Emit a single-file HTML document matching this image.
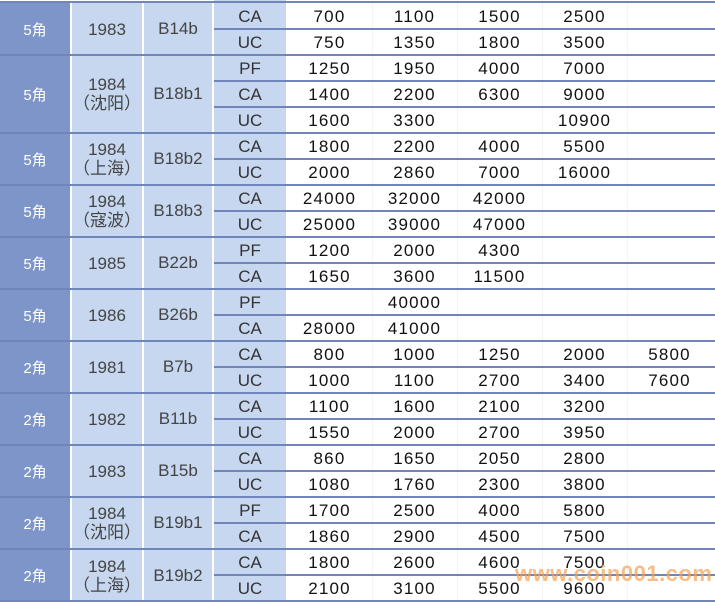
<!DOCTYPE html>
<html><head><meta charset="utf-8"><style>
body{margin:0;width:715px;height:602px;overflow:hidden;background:#fff;position:relative;font-family:"Liberation Sans","Noto Sans CJK SC",sans-serif}
.d{position:absolute;left:0;width:70px;background:#7d95c9;color:#fff;font-size:15px;display:flex;align-items:center;justify-content:center}
.y{position:absolute;left:72px;width:70px;background:#c6d7ef;color:#444;font-size:17px;display:flex;flex-direction:column;align-items:center;justify-content:center;line-height:19px}
.c{position:absolute;left:144px;width:68px;background:#c6d7ef;color:#444;font-size:17px;display:flex;align-items:center;justify-content:center}
.l4{position:absolute;left:214px;width:72px;top:0;height:602px;background:#c6d7ef}
.r{position:absolute;left:214px;height:26px;width:501px;display:flex;align-items:center}
.r b{font-weight:normal;width:72px;text-align:center;font-size:17px;color:#333;padding-top:2px}
.r i{font-style:normal;width:85px;text-align:center;font-size:17px;letter-spacing:1.2px;color:#111;padding-top:1px}
.r i:first-of-type{margin-left:1px}
.h{position:absolute;left:214px;width:501px;height:2px;background:#7086ba}
.g{position:absolute;left:0;width:715px;height:2px;background:#7086ba}
.v{position:absolute;top:0;height:602px;width:1px;background:#f3f4f8}
.wm{position:absolute;left:515px;top:561px;font-size:22px;font-weight:bold;color:rgba(245,160,80,0.7);letter-spacing:0.5px}
</style></head><body>
<div class="l4"></div>
<div class="v" style="left:372px"></div><div class="v" style="left:457px"></div><div class="v" style="left:542px"></div><div class="v" style="left:627px"></div>

<div class="d" style="top:3px;height:52px">5角</div><div class="y" style="top:3px;height:52px">1983</div><div class="c" style="top:3px;height:52px">B14b</div>
<div class="d" style="top:55px;height:78px">5角</div><div class="y" style="top:55px;height:78px"><span>1984</span><span>（沈阳）</span></div><div class="c" style="top:55px;height:78px">B18b1</div>
<div class="d" style="top:133px;height:52px">5角</div><div class="y" style="top:133px;height:52px"><span>1984</span><span>（上海）</span></div><div class="c" style="top:133px;height:52px">B18b2</div>
<div class="d" style="top:185px;height:52px">5角</div><div class="y" style="top:185px;height:52px"><span>1984</span><span>（寇波）</span></div><div class="c" style="top:185px;height:52px">B18b3</div>
<div class="d" style="top:237px;height:52px">5角</div><div class="y" style="top:237px;height:52px">1985</div><div class="c" style="top:237px;height:52px">B22b</div>
<div class="d" style="top:289px;height:52px">5角</div><div class="y" style="top:289px;height:52px">1986</div><div class="c" style="top:289px;height:52px">B26b</div>
<div class="d" style="top:341px;height:52px">2角</div><div class="y" style="top:341px;height:52px">1981</div><div class="c" style="top:341px;height:52px">B7b</div>
<div class="d" style="top:393px;height:52px">2角</div><div class="y" style="top:393px;height:52px">1982</div><div class="c" style="top:393px;height:52px">B11b</div>
<div class="d" style="top:445px;height:52px">2角</div><div class="y" style="top:445px;height:52px">1983</div><div class="c" style="top:445px;height:52px">B15b</div>
<div class="d" style="top:497px;height:52px">2角</div><div class="y" style="top:497px;height:52px"><span>1984</span><span>（沈阳）</span></div><div class="c" style="top:497px;height:52px">B19b1</div>
<div class="d" style="top:549px;height:53px">2角</div><div class="y" style="top:549px;height:53px"><span>1984</span><span>（上海）</span></div><div class="c" style="top:549px;height:53px">B19b2</div>

<div class="r" style="top:3px"><b>CA</b><i>700</i><i>1100</i><i>1500</i><i>2500</i><i></i></div>
<div class="r" style="top:29px"><b>UC</b><i>750</i><i>1350</i><i>1800</i><i>3500</i><i></i></div>
<div class="r" style="top:55px"><b>PF</b><i>1250</i><i>1950</i><i>4000</i><i>7000</i><i></i></div>
<div class="r" style="top:81px"><b>CA</b><i>1400</i><i>2200</i><i>6300</i><i>9000</i><i></i></div>
<div class="r" style="top:107px"><b>UC</b><i>1600</i><i>3300</i><i></i><i>10900</i><i></i></div>
<div class="r" style="top:133px"><b>CA</b><i>1800</i><i>2200</i><i>4000</i><i>5500</i><i></i></div>
<div class="r" style="top:159px"><b>UC</b><i>2000</i><i>2860</i><i>7000</i><i>16000</i><i></i></div>
<div class="r" style="top:185px"><b>CA</b><i>24000</i><i>32000</i><i>42000</i><i></i><i></i></div>
<div class="r" style="top:211px"><b>UC</b><i>25000</i><i>39000</i><i>47000</i><i></i><i></i></div>
<div class="r" style="top:237px"><b>PF</b><i>1200</i><i>2000</i><i>4300</i><i></i><i></i></div>
<div class="r" style="top:263px"><b>CA</b><i>1650</i><i>3600</i><i>11500</i><i></i><i></i></div>
<div class="r" style="top:289px"><b>PF</b><i></i><i>40000</i><i></i><i></i><i></i></div>
<div class="r" style="top:315px"><b>CA</b><i>28000</i><i>41000</i><i></i><i></i><i></i></div>
<div class="r" style="top:341px"><b>CA</b><i>800</i><i>1000</i><i>1250</i><i>2000</i><i>5800</i></div>
<div class="r" style="top:367px"><b>UC</b><i>1000</i><i>1100</i><i>2700</i><i>3400</i><i>7600</i></div>
<div class="r" style="top:393px"><b>CA</b><i>1100</i><i>1600</i><i>2100</i><i>3200</i><i></i></div>
<div class="r" style="top:419px"><b>UC</b><i>1550</i><i>2000</i><i>2700</i><i>3950</i><i></i></div>
<div class="r" style="top:445px"><b>CA</b><i>860</i><i>1650</i><i>2050</i><i>2800</i><i></i></div>
<div class="r" style="top:471px"><b>UC</b><i>1080</i><i>1760</i><i>2300</i><i>3800</i><i></i></div>
<div class="r" style="top:497px"><b>PF</b><i>1700</i><i>2500</i><i>4000</i><i>5800</i><i></i></div>
<div class="r" style="top:523px"><b>CA</b><i>1860</i><i>2900</i><i>4500</i><i>7500</i><i></i></div>
<div class="r" style="top:549px"><b>CA</b><i>1800</i><i>2600</i><i>4600</i><i>7500</i><i></i></div>
<div class="r" style="top:575px"><b>UC</b><i>2100</i><i>3100</i><i>5500</i><i>9600</i><i></i></div>

<div class="g" style="top:1px"></div>
<div class="h" style="top:28px"></div>
<div class="g" style="top:54px"></div>
<div class="h" style="top:80px"></div><div class="h" style="top:106px"></div>
<div class="g" style="top:132px"></div>
<div class="h" style="top:158px"></div>
<div class="g" style="top:184px"></div>
<div class="h" style="top:210px"></div>
<div class="g" style="top:236px"></div>
<div class="h" style="top:262px"></div>
<div class="g" style="top:288px"></div>
<div class="h" style="top:314px"></div>
<div class="g" style="top:340px"></div>
<div class="h" style="top:366px"></div>
<div class="g" style="top:392px"></div>
<div class="h" style="top:418px"></div>
<div class="g" style="top:444px"></div>
<div class="h" style="top:470px"></div>
<div class="g" style="top:496px"></div>
<div class="h" style="top:522px"></div>
<div class="g" style="top:548px"></div>
<div class="h" style="top:574px"></div>
<div class="g" style="top:600px"></div>
<div class="wm">www.coin001.com</div>
</body></html>
